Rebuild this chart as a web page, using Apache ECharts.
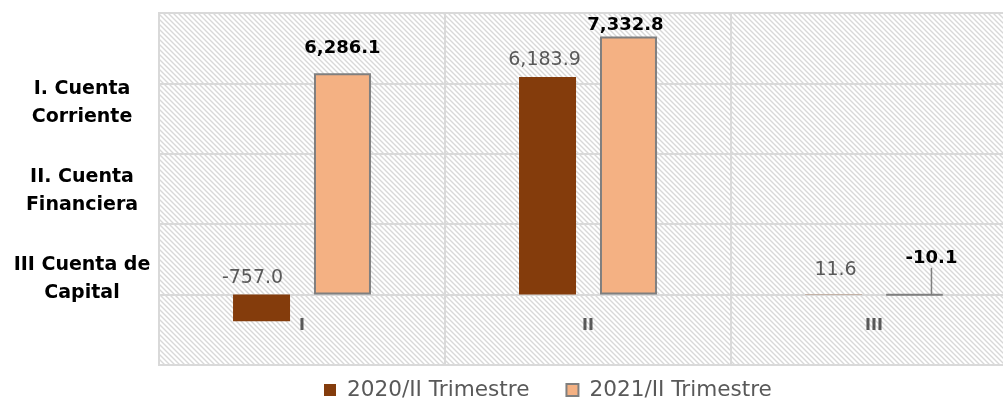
<!DOCTYPE html>
<html>
<head>
<meta charset="utf-8">
<script src="https://cdn.jsdelivr.net/npm/echarts@6/dist/echarts.min.js"></script>
<style>
  html, body { margin: 0; padding: 0; background: #ffffff; }
  #chart { width: 1003px; height: 400px; }
</style>
</head>
<body>
<div id="chart"></div>
<script>
// ---- data ----
const categories = ['I', 'II', 'III'];
const seriesNames = ['2020/II Trimestre', '2021/II Trimestre'];
const values2020 = [-757.0, 6183.9, 11.6];
const values2021 = [6286.1, 7332.8, -10.1];
const sideLabels = ['I. Cuenta\nCorriente', 'II. Cuenta\nFinanciera', 'III Cuenta de\nCapital'];

// ---- label nudges (layout only, px) ----
const nudge2020 = [[-9, -7], [-3, -7], [2, -15]];
const nudge2021 = [[0, -16], [-3, -2], [17, -26]];

function makePattern() {
  const s = 5;
  const c = document.createElement('canvas');
  c.width = s; c.height = s;
  const ctx = c.getContext('2d');
  ctx.fillStyle = '#ffffff';
  ctx.fillRect(0, 0, s, s);
  ctx.strokeStyle = '#d8d8d8';
  ctx.lineWidth = 1.4;
  ctx.beginPath();
  for (let k = -s; k <= s; k += s) {
    ctx.moveTo(k - 1, -1);
    ctx.lineTo(k + s + 1, s + 1);
  }
  ctx.stroke();
  return c;
}

const FONT = 'DejaVu Sans';
const fmt = v => v.toLocaleString('en-US', { minimumFractionDigits: 1, maximumFractionDigits: 1 });
const chart = echarts.init(document.getElementById('chart'), null, { renderer: 'canvas' });

const GRID_TOP = 13, GRID_BOTTOM = 35;
const Y_MIN = -2000, Y_MAX = 8000;
const plotH = 400 - GRID_TOP - GRID_BOTTOM;
const zeroOffset = plotH * (0 - Y_MIN) / (Y_MAX - Y_MIN);

const option = {
  animation: false,
  backgroundColor: '#ffffff',
  textStyle: { fontFamily: FONT },
  grid: {
    show: true,
    left: 159, right: -14, top: GRID_TOP, bottom: GRID_BOTTOM,
    outerBoundsMode: 'none',
    containLabel: false,
    backgroundColor: { image: makePattern(), repeat: 'repeat' },
    borderColor: '#d9d9d9', borderWidth: 2
  },
  legend: {
    data: seriesNames,
    top: 379, left: 324, padding: 0,
    itemWidth: 12, itemHeight: 12, itemGap: 36,
    icon: 'rect',
    textStyle: { fontFamily: FONT, fontSize: 21.6, color: '#595959', padding: [0, 0, 0, 6] }
  },
  xAxis: {
    type: 'category',
    data: categories,
    position: 'bottom',
    offset: -zeroOffset,
    axisLine: { show: true, onZero: false, lineStyle: { color: '#d9d9d9', width: 2 } },
    axisTick: { show: false },
    axisLabel: { fontFamily: FONT, fontSize: 16, fontWeight: 'bold', color: '#595959', margin: 23 },
    splitLine: { show: true, lineStyle: { color: '#d9d9d9', width: 2 } }
  },
  yAxis: {
    type: 'value',
    min: Y_MIN, max: Y_MAX, interval: 2000,
    axisLabel: { show: false },
    axisLine: { show: false },
    axisTick: { show: false },
    splitLine: { show: true, lineStyle: { color: '#d9d9d9', width: 2 } }
  },
  graphic: sideLabels.map((t, i) => ({
    type: 'text',
    x: 82, y: [75, 163, 251][i],
    style: {
      text: t, textAlign: 'center',
      font: 'bold 19px "DejaVu Sans"', fill: '#000000', lineHeight: 28
    }
  })),
  series: [
    {
      name: seriesNames[0],
      type: 'bar',
      barWidth: 57,
      barGap: '42%',
      itemStyle: { color: '#843C0C' },
      label: { show: true, position: 'top', distance: 0, fontFamily: FONT, fontSize: 19, color: '#595959',
        formatter: p => fmt(p.value) },
      labelLayout: p => ({ dx: nudge2020[p.dataIndex][0], dy: nudge2020[p.dataIndex][1] }),
      data: values2020
    },
    {
      name: seriesNames[1],
      type: 'bar',
      barWidth: 57,
      itemStyle: { color: '#F4B183', borderColor: '#7f7f7f', borderWidth: 2 },
      label: { show: true, position: 'top', distance: 0, fontFamily: FONT, fontSize: 18, fontWeight: 'bold', color: '#000000',
        formatter: p => fmt(p.value) },
      labelLayout: p => ({ dx: nudge2021[p.dataIndex][0], dy: nudge2021[p.dataIndex][1] }),
      data: values2021.map((v, i) => (i === 2
        ? { value: v, labelLine: { show: true, lineStyle: { color: '#7f7f7f', width: 1.5 } } }
        : v))
    }
  ]
};

chart.setOption(option);
</script>
</body>
</html>
